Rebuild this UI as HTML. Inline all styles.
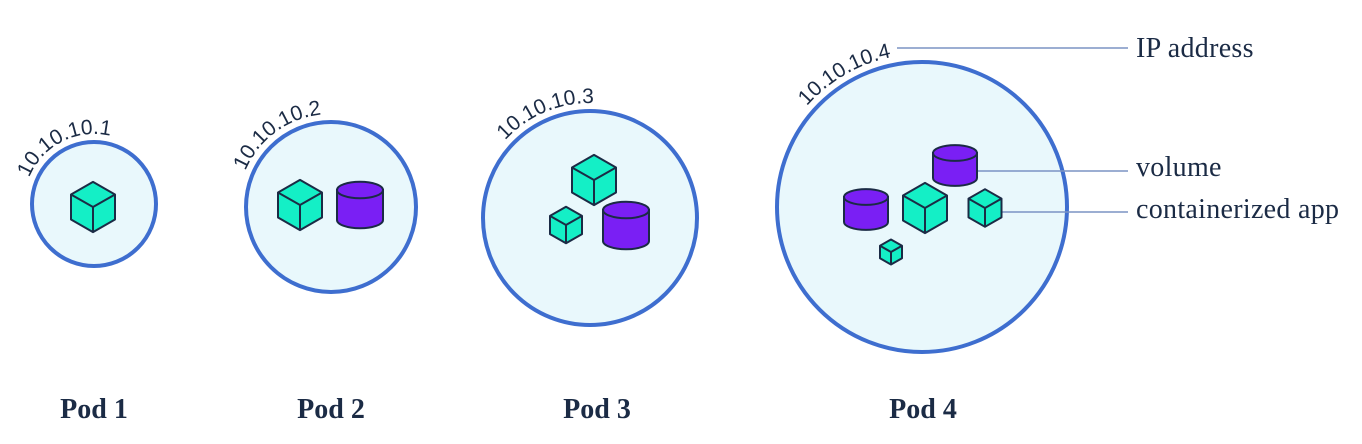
<!DOCTYPE html>
<html><head><meta charset="utf-8"><style>
html,body{margin:0;padding:0;background:#fff;}
svg{display:block;}
.ip{font-family:"Liberation Sans",sans-serif;font-size:21px;fill:#1b2b45;font-weight:300;}
.lbl{font-family:"Liberation Serif",serif;font-size:28px;fill:#1b2b45;letter-spacing:0.3px;}
.pod{font-family:"Liberation Serif",serif;font-size:28px;font-weight:bold;fill:#1b2b45;}
</style></head><body>
<svg id="d" width="1362" height="444" viewBox="0 0 1362 444" xmlns="http://www.w3.org/2000/svg">
</svg>
<script>
const podNames=["Pod 1","Pod 2","Pod 3","Pod 4"];
const podIPs=["10.10.10.1","10.10.10.2","10.10.10.3","10.10.10.4"];
const podCX=[94,331,590,922];
const podCY=[204,207,218,207];
const podR=[62,85,107,145];
const ipOffset=[27,37,85,110];
const labelX=[94,331,597,923];
// cubes: pod index, cx, cy, half-width
const cubes=[[0,93,207,22],[1,300,205,22],[2,594,180,22],[2,566,225,16],[3,925,208,22],[3,985,208,16.5],[3,891,252,11]];
// cylinders: cx, top y, bottom y, half-width
const cyls=[[360,190,220,23],[626,210,241,23],[955,153,178,22],[866,197,222,22]];
const NS="http://www.w3.org/2000/svg";
const svg=document.getElementById('d');
function el(t,a,p){const e=document.createElementNS(NS,t);for(const k in a)e.setAttribute(k,a[k]);(p||svg).appendChild(e);return e;}
const leaders=[[897,48,1128,48],[977,171,1128,171],[1001,212,1128,212]];
const defs=el('defs',{});
podNames.forEach((n,i)=>{
  const c=el('circle',{cx:podCX[i],cy:podCY[i],r:podR[i],fill:'#e9f8fc',stroke:'#3e6ecf','stroke-width':4});
  
  
  const R=podR[i]+8,cx=podCX[i],cy=podCY[i];
  el('path',{id:'arc'+i,d:`M ${cx-R} ${cy} A ${R} ${R} 0 0 1 ${cx+R} ${cy}`,fill:'none'},defs);
  const t=el('text',{class:'ip'});
  
  
  const tp=el('textPath',{href:'#arc'+i,startOffset:ipOffset[i]},t);
  tp.textContent=podIPs[i];
  const pl=el('text',{class:'pod',x:labelX[i],y:418,'text-anchor':'middle'});
  
  
  pl.textContent=n;
});
leaders.forEach((l,i)=>{
  const ln=el('line',{x1:l[0],y1:l[1],x2:l[2],y2:l[3],stroke:'#7b93c4','stroke-width':1.5});
  
  
});
cyls.forEach((c,i)=>{
  const [x,ty,by,w]=c,ry=w*0.36;
  const g=el('g',{});
  
  
  el('path',{d:`M ${x-w} ${ty} L ${x-w} ${by} A ${w} ${ry} 0 0 0 ${x+w} ${by} L ${x+w} ${ty} Z`,fill:'#7a1ff4',stroke:'#1b2b45','stroke-width':2},g);
  el('ellipse',{cx:x,cy:ty,rx:w,ry:ry,fill:'#7a1ff4',stroke:'#1b2b45','stroke-width':2},g);
});
cubes.forEach((c,i)=>{
  const [p,x,y,s]=c,h=s*1.14,q=h/2;
  const g=el('g',{fill:'#14efc6',stroke:'#1b2b45','stroke-width':2,'stroke-linejoin':'round'});
  
  
  el('path',{d:`M ${x} ${y-h} L ${x+s} ${y-q} L ${x+s} ${y+q} L ${x} ${y+h} L ${x-s} ${y+q} L ${x-s} ${y-q} Z`},g);
  el('path',{d:`M ${x-s} ${y-q} L ${x} ${y} L ${x+s} ${y-q} M ${x} ${y} L ${x} ${y+h}`,fill:'none'},g);
});
const labels=[["IP address",57],["volume",176],["containerized app",218]];
labels.forEach((l,i)=>{
  const t=el('text',{class:'lbl',x:1136,y:l[1]});
  
  
  t.textContent=l[0];
});
</script>
</body></html>
